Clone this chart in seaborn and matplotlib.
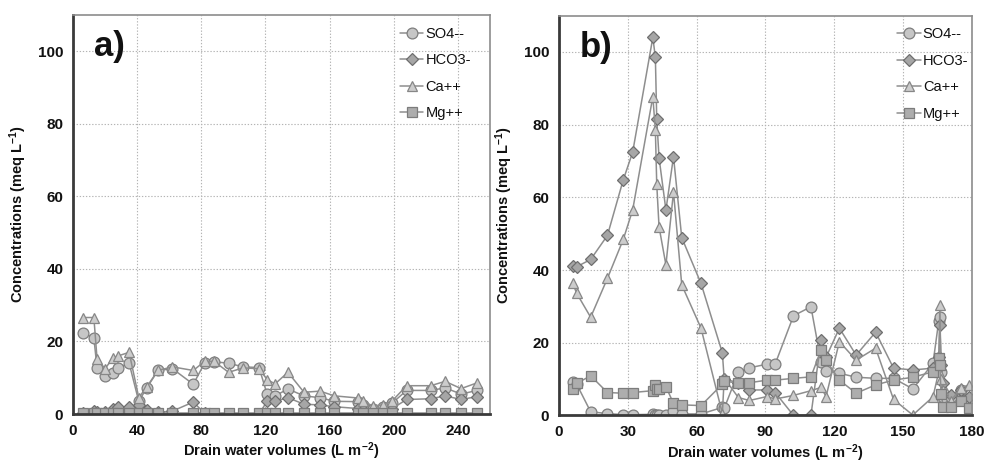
import numpy as np
import pandas as pd
import seaborn as sns
import matplotlib
matplotlib.use("Agg")
import matplotlib.pyplot as plt

# ---------------- data: panel a ----------------
xa = [6, 13, 15, 20, 25, 28, 35, 41, 46, 53, 62, 75, 82, 88, 97, 106, 116,
      121, 126, 134, 144, 154, 163, 178, 181, 187, 193, 199, 208, 223, 232, 242, 252]
so4_a = [22.4, 21.0, 12.7, 10.5, 11.4, 12.7, 14.0, 3.5, 7.2, 12.0, 12.5, 8.2, 14.0, 14.4,
         14.0, 13.0, 12.8, 5.5, 5.0, 6.9, 5.0, 4.5, 3.5, 3.4, 2.5, 1.5, 2.0, 3.0,
         6.5, 6.5, 7.2, 5.5, 6.5]
hco3_a = [0.3, 0.8, 0.5, 0.5, 1.5, 2.0, 2.0, 2.5, 1.0, 0.5, 0.8, 3.3, 0.2, 0.0,
          0.0, 0.0, 0.0, 3.5, 3.5, 4.5, 2.7, 2.5, 2.0, 1.5, 1.0, 0.5, 0.8, 1.5,
          4.0, 4.2, 5.0, 4.0, 4.8]
ca_a = [26.6, 26.6, 15.2, 12.5, 15.5, 16.0, 17.0, 4.5, 7.5, 12.0, 13.0, 12.0, 14.5, 14.5,
        11.5, 12.7, 12.5, 9.5, 8.3, 11.5, 6.0, 6.3, 5.0, 4.4, 3.5, 2.2, 2.5, 3.6,
        7.8, 7.8, 9.0, 7.0, 8.6]
mg_a = [0.2] * len(xa)

# ---------------- data: panel b ----------------
xb = [6, 7.7, 13.8, 21.1, 28, 32.1, 40.9, 42, 42.6, 43.6, 46.6, 49.9, 53.5, 61.9,
      71.2, 72, 78.2, 83, 90.7, 94.2, 102.2, 109.8, 114.2, 116.4, 122.2, 129.5,
      138, 145.8, 154.2, 163, 165.5, 166, 166.5, 167.5, 170.8, 175, 178.5]
so4_b = [9.3, 8.6, 1.0, 0.5, 0.2, 0.2, 0.3, 0.2, 0.1, 0.2, 0.2, 1.3, 0.4, 0.4,
         2.2, 1.9, 12.0, 13.1, 14.1, 14.1, 27.4, 29.9, 14.8, 12.3, 11.6, 10.5,
         10.2, 10.2, 7.3, 14.3, 26.0, 27.0, 12.0, 5.0, 5.1, 7.0, 4.0]
hco3_b = [41.1, 40.9, 42.9, 49.5, 64.8, 72.4, 104.0, 98.5, 81.5, 70.9, 56.5, 71.2,
          48.9, 36.3, 17.2, 10.0, 9.0, 7.0, 7.0, 6.3, 0.0, 0.0, 20.7, 16.0, 24.0,
          16.6, 22.9, 13.0, 12.5, 13.0, 16.0, 25.0, 14.0, 9.0, 5.5, 7.0, 5.0]
ca_b = [36.3, 33.6, 27.0, 37.7, 48.4, 56.5, 87.7, 78.5, 63.6, 51.9, 41.4, 61.5,
        35.9, 24.0, 0.5, 10.2, 4.9, 4.1, 5.2, 4.5, 5.5, 6.8, 7.7, 5.2, 20.3, 15.2,
        18.5, 4.4, 0.1, 5.1, 12.0, 30.4, 10.0, 7.0, 4.0, 7.5, 8.4]
mg_b = [7.4, 8.8, 10.9, 6.3, 6.1, 6.3, 6.8, 8.5, 7.2, 7.4, 7.9, 3.3, 2.9, 2.7,
        8.6, 9.5, 8.8, 9.0, 9.7, 9.7, 10.2, 10.6, 18.0, 15.2, 9.7, 6.1, 8.4, 9.7,
        10.5, 12.0, 15.7, 14.0, 6.0, 2.4, 2.3, 4.0, 2.0]

labels = ["SO4--", "HCO3-", "Ca++", "Mg++"]
xticks_a = [0, 40, 80, 120, 160, 200, 240]
xticks_b = [0, 30, 60, 90, 120, 150, 180]
yticks = [0, 20, 40, 60, 80, 100]

# ---------------- style ----------------
sns.set_style("white")
plt.rcParams["font.family"] = ["Liberation Sans", "DejaVu Sans"]
plt.rcParams["mathtext.fontset"] = "custom"
plt.rcParams["mathtext.rm"] = "Liberation Sans"
plt.rcParams["mathtext.bf"] = "Liberation Sans:bold"
plt.rcParams["mathtext.default"] = "bf"
plt.rcParams["text.color"] = "#111111"

styles = {
    "SO4--": dict(marker="o", markersize=7.8, markerfacecolor="#c6c6c6", markeredgecolor="#7e7e7e"),
    "HCO3-": dict(marker="D", markersize=5.8, markerfacecolor="#a6a6a6", markeredgecolor="#6e6e6e"),
    "Ca++": dict(marker="^", markersize=7.8, markerfacecolor="#cccccc", markeredgecolor="#878787"),
    "Mg++": dict(marker="s", markersize=6.8, markerfacecolor="#adadad", markeredgecolor="#7c7c7c"),
}
line_color = "#8e8e8e"

fig = plt.figure(figsize=(9.87, 4.71), dpi=100)
ax_a = fig.add_axes([73 / 987, (471 - 414) / 471, (490 - 73) / 987, (414 - 15) / 471])
ax_b = fig.add_axes([559 / 987, (471 - 415.4) / 471, (972 - 559) / 987, (415.4 - 15.6) / 471])


def draw(ax, x, series, xticks, xmax, tag, legx):
    for lab, y in zip(labels, series):
        df = pd.DataFrame({"x": x, "y": y})
        sns.lineplot(data=df, x="x", y="y", ax=ax, estimator=None, sort=False,
                     color=line_color, linewidth=1.1, markeredgewidth=0.9,
                     label=lab, **styles[lab])
    ax.set_xlim(0, xmax)
    ax.set_ylim(0, 110)
    ax.set_xticks(xticks)
    ax.set_yticks(yticks)
    ax.grid(True, linestyle=(0, (1.2, 1.6)), color="#b4b4b4", linewidth=0.8)
    ax.set_axisbelow(True)
    for s in ["left", "bottom"]:
        ax.spines[s].set_color("#3a3a3a")
        ax.spines[s].set_linewidth(2.0)
    for s in ["top", "right"]:
        ax.spines[s].set_color("#8c8c8c")
        ax.spines[s].set_linewidth(1.2)
    ax.tick_params(axis="both", which="both", direction="out", length=4, width=1.2,
                   color="#3a3a3a", labelsize=11, labelcolor="#111111", pad=3)
    for t in ax.get_xticklabels() + ax.get_yticklabels():
        t.set_fontweight("bold")
    ax.set_xlabel(r"Drain water volumes (L m$^{-2}$)", fontsize=10.5, fontweight="bold",
                  labelpad=2, color="#111111")
    ax.set_ylabel(r"Concentrations (meq L$^{-1}$)", fontsize=10.5, fontweight="bold",
                  labelpad=6, color="#111111")
    ax.text(0.05, 0.92, tag, transform=ax.transAxes, fontsize=25, fontweight="bold",
            ha="left", va="center", color="#111111")
    leg = ax.legend(loc="upper left", bbox_to_anchor=(legx, 0.985), frameon=False,
                    fontsize=10.5, handlelength=1.6, handletextpad=0.15, labelspacing=0.85,
                    borderaxespad=0.0)
    for t in leg.get_texts():
        t.set_color("#111111")


draw(ax_a, xa, [so4_a, hco3_a, ca_a, mg_a], xticks_a, 260, "a)", 0.77)
draw(ax_b, xb, [so4_b, hco3_b, ca_b, mg_b], xticks_b, 180, "b)", 0.805)

fig.savefig("out.png", dpi=100)
